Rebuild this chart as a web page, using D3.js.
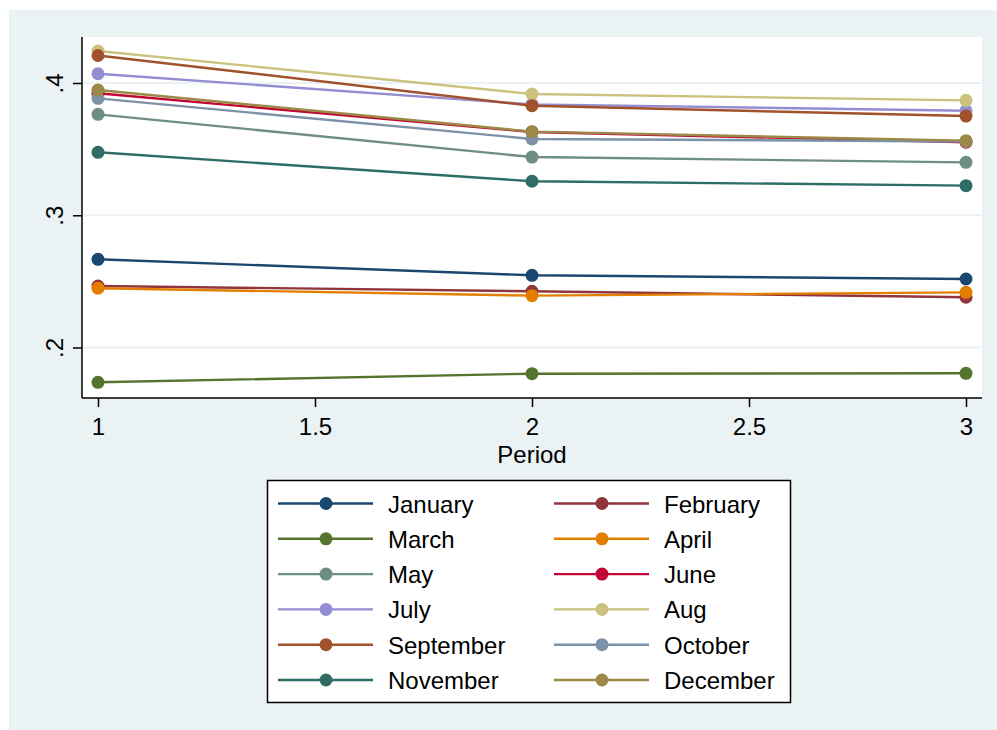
<!DOCTYPE html>
<html>
<head>
<meta charset="utf-8">
<script src="https://cdn.jsdelivr.net/npm/d3@7"></script>
<style>
  html, body { margin: 0; padding: 0; background: #ffffff; }
  svg { display: block; }
  text { font-family: "Liberation Sans", Arial, sans-serif; fill: #000; }
</style>
</head>
<body>
<script>
// Periods on the x axis
const periods = [1, 2, 3];

// Series names, in drawing / legend order
const months = ["January", "February", "March", "April", "May", "June",
                "July", "Aug", "September", "October", "November", "December"];

// Values per month at periods 1, 2, 3
const january   = [0.2667, 0.2546, 0.2518];
const february  = [0.2465, 0.2425, 0.2380];
const march     = [0.1737, 0.1802, 0.1805];
const april     = [0.2448, 0.2392, 0.2417];
const may       = [0.3763, 0.3440, 0.3400];
const june      = [0.3922, 0.3630, 0.3552];
const july      = [0.4070, 0.3838, 0.3790];
const aug       = [0.4242, 0.3917, 0.3869];
const september = [0.4208, 0.3828, 0.3750];
const october   = [0.3884, 0.3577, 0.3558];
const november  = [0.3476, 0.3257, 0.3224];
const december  = [0.3947, 0.3632, 0.3564];

const seriesValues = [january, february, march, april, may, june,
                      july, aug, september, october, november, december];

// Stata s2color palette
const colors = ["#1a476f", "#90353b", "#55752f", "#e37e00", "#6e8e84", "#c10534",
                "#938dd2", "#cac27e", "#a0522d", "#7b92a8", "#2d6d66", "#9c8847"];

// Axis ticks
const xTicks = [1, 1.5, 2, 2.5, 3];
const xTickLabels = ["1", "1.5", "2", "2.5", "3"];
const yTicks = [0.2, 0.3, 0.4];
const yTickLabels = [".2", ".3", ".4"];
const xTitle = "Period";

const W = 997, H = 730;
const svg = d3.select("body").append("svg").attr("width", W).attr("height", H);

// Outer graph region
svg.append("rect").attr("x", 9).attr("y", 10).attr("width", W - 9).attr("height", H - 10)
  .attr("fill", "#eaf2f3");

// Plot region
const plot = { left: 82, right: 982, top: 37, bottom: 398 };
svg.append("rect").attr("x", plot.left).attr("y", plot.top)
  .attr("width", plot.right - plot.left).attr("height", plot.bottom - plot.top)
  .attr("fill", "#ffffff");

const x = d3.scaleLinear().domain([1, 3]).range([98, 966]);
const y = d3.scaleLinear().domain([0.2, 0.4]).range([347.5, 83]);

// Horizontal grid lines
svg.append("g").selectAll("line").data(yTicks).join("line")
  .attr("x1", plot.left).attr("x2", plot.right)
  .attr("y1", d => y(d)).attr("y2", d => y(d))
  .attr("stroke", "#eaf2f3").attr("stroke-width", 2);

// Y axis
const yAxis = d3.axisLeft(y).tickValues(yTicks).tickSize(9).tickSizeOuter(0)
  .tickFormat((d, i) => yTickLabels[i]);
const gy = svg.append("g").attr("transform", `translate(${plot.left},0)`).call(yAxis);
gy.select(".domain").remove();
gy.selectAll(".tick line").attr("stroke", "#000").attr("stroke-width", 1.5);
gy.selectAll(".tick text").remove();
gy.selectAll(".tick").append("text")
  .attr("transform", "translate(-19,0) rotate(-90)")
  .attr("text-anchor", "middle")
  .attr("font-size", 24)
  .text((d, i) => yTickLabels[i]);
svg.append("line").attr("x1", plot.left).attr("x2", plot.left)
  .attr("y1", plot.top).attr("y2", plot.bottom)
  .attr("stroke", "#000").attr("stroke-width", 1.5);

// X axis
const xAxis = d3.axisBottom(x).tickValues(xTicks).tickSize(9).tickSizeOuter(0)
  .tickFormat((d, i) => xTickLabels[i]);
const gx = svg.append("g").attr("transform", `translate(0,${plot.bottom})`).call(xAxis);
gx.select(".domain").remove();
gx.selectAll(".tick line").attr("stroke", "#000").attr("stroke-width", 1.5);
gx.selectAll(".tick text").attr("font-size", 24).attr("font-family", "Liberation Sans, Arial, sans-serif")
  .attr("fill", "#000").attr("y", 0).attr("dy", 0)
  .attr("transform", "translate(0,37)");
svg.append("line").attr("x1", plot.left).attr("x2", plot.right)
  .attr("y1", plot.bottom).attr("y2", plot.bottom)
  .attr("stroke", "#000").attr("stroke-width", 1.5);

svg.append("text").attr("x", (x(1) + x(3)) / 2).attr("y", 463)
  .attr("text-anchor", "middle").attr("font-size", 24).text(xTitle);

// Series lines and markers
const line = d3.line().x((d, i) => x(periods[i])).y(d => y(d));
const series = svg.append("g").selectAll("g").data(seriesValues).join("g");
series.append("path")
  .attr("d", d => line(d))
  .attr("fill", "none")
  .attr("stroke", (d, i) => colors[i])
  .attr("stroke-width", 2.4);
series.each(function(vals, i) {
  d3.select(this).selectAll("circle").data(vals).join("circle")
    .attr("cx", (d, j) => x(periods[j]))
    .attr("cy", d => y(d))
    .attr("r", 6.5)
    .attr("fill", colors[i]);
});

// Legend
const legend = svg.append("g");
legend.append("rect").attr("x", 267.5).attr("y", 480.5).attr("width", 523).attr("height", 222)
  .attr("fill", "#ffffff").attr("stroke", "#000").attr("stroke-width", 1.5);
const rowY0 = 503.5, rowStep = 35.3;
const colX = [278, 554];
months.forEach((m, i) => {
  const col = i % 2, row = Math.floor(i / 2);
  const ly = rowY0 + row * rowStep;
  const lx = colX[col];
  legend.append("line").attr("x1", lx).attr("x2", lx + 95)
    .attr("y1", ly).attr("y2", ly)
    .attr("stroke", colors[i]).attr("stroke-width", 2.4);
  legend.append("circle").attr("cx", lx + 48).attr("cy", ly).attr("r", 6.5)
    .attr("fill", colors[i]);
  legend.append("text").attr("x", lx + 110).attr("y", ly + 9)
    .attr("font-size", 24).text(m);
});
</script>
</body>
</html>
